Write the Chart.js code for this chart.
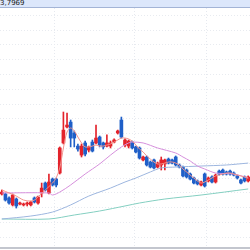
<!DOCTYPE html>
<html>
<head>
<meta charset="utf-8">
<script src="https://cdn.jsdelivr.net/npm/chart.js@4.4.1/dist/chart.umd.min.js"></script>
<style>
    body { margin: 0; background: #fff; }
    #wrap { position: relative; width: 250px; height: 250px; overflow: hidden; }
    #head {
        position: absolute; left: 0; top: 0; width: 250px; height: 7px;
        background: #dce7fb; border-bottom: 1px solid #a3b4d6;
        font: 7px "DejaVu Sans", sans-serif; line-height: 6px; color: #222;
        overflow: hidden; white-space: nowrap; z-index: 2;
    }
</style>
</head>
<body>
<div id="wrap">
    <div id="head">3,7969</div>
    <canvas id="klineChart"></canvas>
</div>
<script>
// daily candles, index 0..68
const opens = [3.292, 3.292, 3.265, 3.218, 3.258, 3.224, 3.218, 3.224, 3.218, 3.265,
    3.231, 3.299, 3.366, 3.299, 3.393, 3.393, 3.434, 3.637, 3.745, 3.778,
    3.704, 3.616, 3.555, 3.637, 3.589, 3.643, 3.637, 3.677, 3.637, 3.616,
    3.616, 3.643, 3.704, 3.792, 3.623, 3.616, 3.643, 3.610, 3.603, 3.522,
    3.542, 3.508, 3.522, 3.474, 3.488, 3.495, 3.528, 3.522, 3.542, 3.488,
    3.474, 3.454, 3.427, 3.400, 3.380, 3.353, 3.427, 3.380, 3.407, 3.373,
    3.447, 3.454, 3.441, 3.447, 3.434, 3.414, 3.387, 3.407, 3.380];
const closes = [3.305, 3.251, 3.231, 3.285, 3.211, 3.231, 3.224, 3.231, 3.238, 3.238,
    3.272, 3.332, 3.319, 3.373, 3.353, 3.353, 3.603, 3.724, 3.758, 3.670,
    3.670, 3.596, 3.616, 3.562, 3.610, 3.582, 3.670, 3.623, 3.610, 3.637,
    3.637, 3.657, 3.718, 3.677, 3.657, 3.650, 3.603, 3.576, 3.535, 3.542,
    3.488, 3.474, 3.468, 3.501, 3.522, 3.522, 3.501, 3.501, 3.488, 3.474,
    3.414, 3.407, 3.393, 3.366, 3.360, 3.373, 3.346, 3.400, 3.373, 3.420,
    3.427, 3.427, 3.427, 3.427, 3.420, 3.400, 3.366, 3.380, 3.407];
const highs = [3.319, 3.299, 3.272, 3.292, 3.265, 3.238, 3.231, 3.238, 3.244, 3.272,
    3.278, 3.366, 3.373, 3.427, 3.400, 3.400, 3.610, 3.846, 3.839, 3.792,
    3.718, 3.630, 3.630, 3.650, 3.616, 3.657, 3.758, 3.684, 3.643, 3.691,
    3.650, 3.664, 3.724, 3.812, 3.664, 3.657, 3.650, 3.616, 3.610, 3.549,
    3.549, 3.515, 3.528, 3.508, 3.542, 3.528, 3.535, 3.528, 3.549, 3.495,
    3.481, 3.461, 3.434, 3.407, 3.387, 3.380, 3.434, 3.407, 3.414, 3.427,
    3.454, 3.461, 3.447, 3.454, 3.441, 3.420, 3.393, 3.414, 3.414];
const lows = [3.285, 3.244, 3.224, 3.211, 3.197, 3.218, 3.211, 3.211, 3.211, 3.231,
    3.224, 3.272, 3.312, 3.292, 3.346, 3.339, 3.427, 3.630, 3.738, 3.610,
    3.610, 3.582, 3.542, 3.549, 3.576, 3.576, 3.630, 3.610, 3.596, 3.610,
    3.603, 3.637, 3.697, 3.670, 3.610, 3.603, 3.596, 3.569, 3.528, 3.515,
    3.481, 3.468, 3.461, 3.468, 3.454, 3.454, 3.495, 3.495, 3.481, 3.468,
    3.407, 3.400, 3.387, 3.360, 3.353, 3.346, 3.339, 3.373, 3.366, 3.366,
    3.420, 3.420, 3.420, 3.420, 3.414, 3.393, 3.360, 3.373, 3.373];

// moving averages: [day index, value]
const ma5 = [[0, 3.319], [2, 3.299], [4, 3.278], [6, 3.251], [8, 3.244], [9, 3.251],
    [10, 3.272], [12, 3.319], [14, 3.366], [15, 3.400], [16, 3.468], [17, 3.603],
    [18, 3.711], [19, 3.738], [20, 3.718], [21, 3.677], [22, 3.637], [23, 3.610],
    [24, 3.610], [25, 3.616], [26, 3.623], [27, 3.616], [28, 3.616], [29, 3.623],
    [30, 3.630], [31, 3.643], [32, 3.657], [33, 3.670], [34, 3.670], [35, 3.664],
    [36, 3.650], [37, 3.623], [38, 3.596], [39, 3.576], [40, 3.549], [41, 3.528],
    [42, 3.508], [43, 3.495], [44, 3.495], [45, 3.501], [46, 3.508], [47, 3.508],
    [48, 3.501], [49, 3.488], [50, 3.461], [51, 3.441], [52, 3.420], [53, 3.400],
    [54, 3.380], [55, 3.366], [56, 3.373], [57, 3.387], [58, 3.400], [59, 3.414],
    [60, 3.420], [61, 3.427], [62, 3.434], [63, 3.434], [64, 3.427], [65, 3.420],
    [66, 3.414], [67, 3.407], [68, 3.400]];
const ma10 = [[0, 3.299], [13, 3.299], [14, 3.285], [16, 3.305], [19, 3.353], [23, 3.427],
    [27, 3.495], [30, 3.555], [33, 3.610], [35, 3.637], [36, 3.643], [39, 3.637],
    [43, 3.603], [48, 3.569], [50, 3.542], [52, 3.515], [54, 3.481], [56, 3.461],
    [59, 3.434], [64, 3.427], [68, 3.400]];
const ma30 = [[0, 3.123], [8, 3.143], [14, 3.170], [19, 3.218], [24, 3.278], [30, 3.332],
    [34, 3.373], [37, 3.400], [41, 3.441], [44, 3.468], [48, 3.474], [55, 3.481],
    [62, 3.488], [68, 3.501]];
const ma60 = [[0, 3.123], [13, 3.123], [20, 3.150], [27, 3.177], [34, 3.211], [38, 3.231],
    [45, 3.258], [55, 3.285], [68, 3.326]];

const priceTicks = [3.0, 3.1, 3.2, 3.3, 3.4, 3.5, 3.6, 3.7, 3.8, 3.9, 4.0, 4.1, 4.2, 4.3, 4.4, 4.5];
const monthTicks = [14.5, 36.5, 56.5];

const UP = '#e3232b';
const DOWN = '#1f5fc8';

function candleColor(i) {
    return closes[i] >= opens[i] ? UP : DOWN;
}

function toPoints(list) {
    return list.map(p => ({ x: p[0], y: p[1] }));
}

function maLine(list, color) {
    return {
        type: 'line',
        data: toPoints(list),
        borderColor: color,
        borderWidth: 1,
        pointRadius: 0,
        tension: 0.3,
        order: 0
    };
}

window.onload = () => {
    const days = opens.map((v, i) => i);
    const ctx = document.getElementById('klineChart').getContext('2d');
    new Chart(ctx, {
        type: 'bar',
        data: {
            datasets: [
                maLine(ma5, '#f2928c'),
                maLine(ma10, '#d690dc'),
                maLine(ma30, '#9db6df'),
                maLine(ma60, '#84cfc1'),
                {
                    data: days.map(i => ({ x: i, y: [opens[i], closes[i]] })),
                    backgroundColor: days.map(candleColor),
                    barThickness: 3,
                    minBarLength: 1,
                    grouped: false,
                    order: 1
                },
                {
                    data: days.map(i => ({ x: i, y: [lows[i], highs[i]] })),
                    backgroundColor: days.map(candleColor),
                    barThickness: 1,
                    grouped: false,
                    order: 2
                }
            ]
        },
        options: {
            responsive: true,
            maintainAspectRatio: false,
            animation: false,
            layout: { padding: { top: 8, bottom: 2, left: 0, right: 0 } },
            plugins: { legend: { display: false }, tooltip: { enabled: false } },
            scales: {
                x: {
                    type: 'linear',
                    min: -0.5,
                    max: 68.5,
                    offset: false,
                    afterBuildTicks: axis => { axis.ticks = monthTicks.map(v => ({ value: v })); },
                    ticks: { display: false },
                    grid: { color: '#e6e9ef', offset: false, drawTicks: false },
                    border: { display: true, color: '#c3c6ce', width: 2, dash: [1, 2] }
                },
                y: {
                    min: 2.927,
                    max: 4.549,
                    afterBuildTicks: axis => { axis.ticks = priceTicks.map(v => ({ value: v })); },
                    ticks: { display: false },
                    grid: { color: '#e8ebf0', drawTicks: false },
                    border: { display: false, dash: [1, 2] }
                }
            }
        }
    });
};
</script>
</body>
</html>
